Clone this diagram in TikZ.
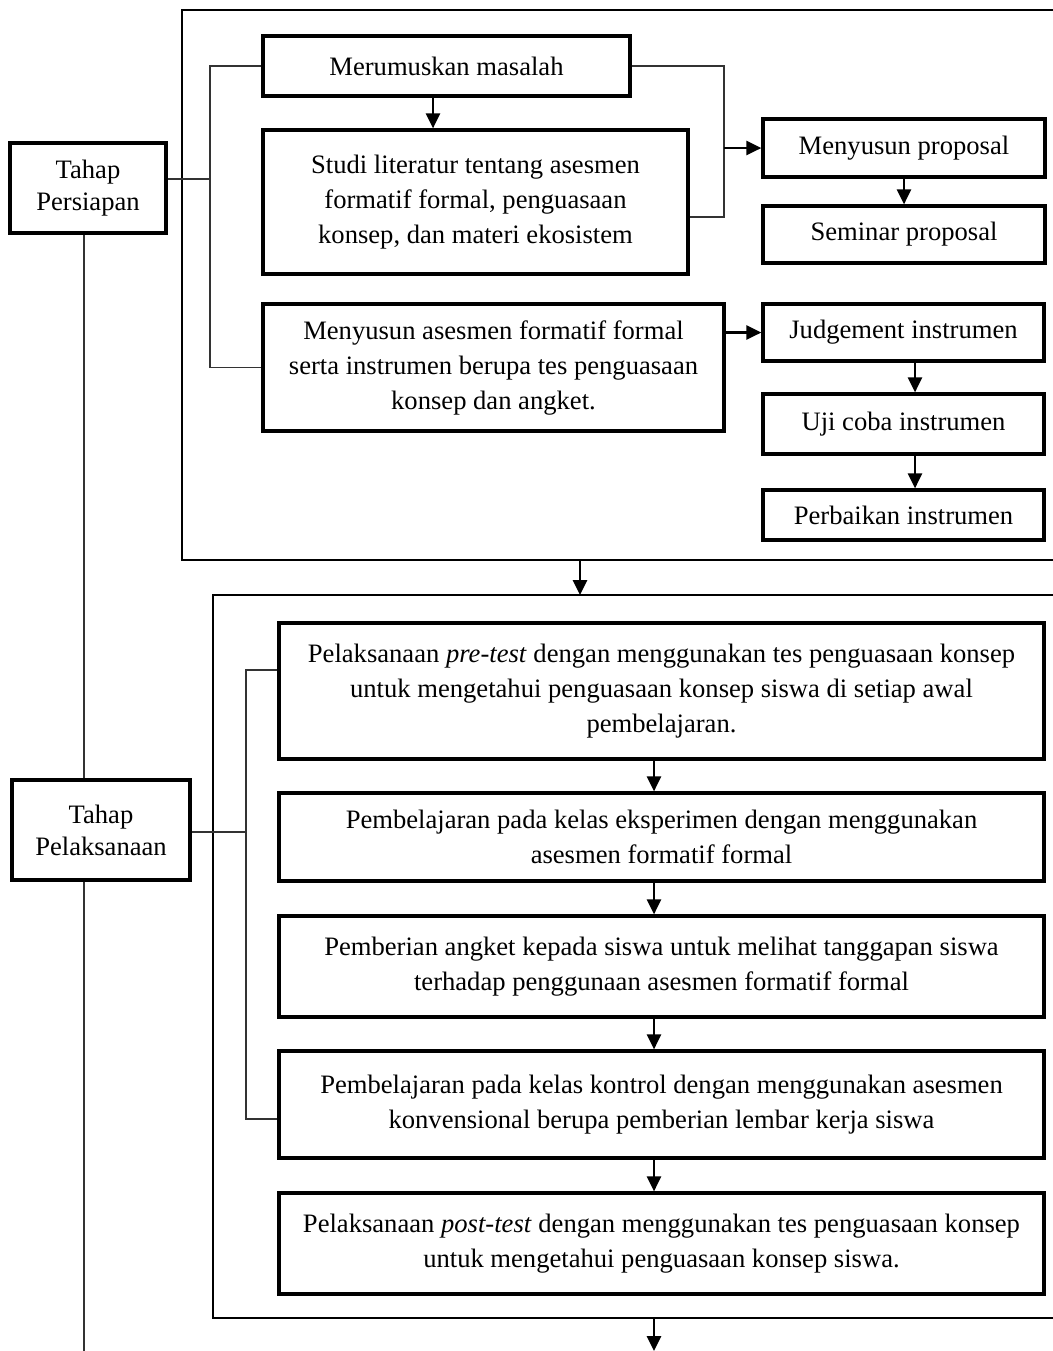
\documentclass[tikz,border=0pt]{standalone}
\usepackage{fontspec}
\setmainfont{Liberation Serif}
\usetikzlibrary{arrows.meta}

\begin{document}
\begin{tikzpicture}[x=0.5pt,y=-0.5pt,
  every node/.style={font=\fontsize{13.3}{17.5}\selectfont},
  kotak/.style={draw, rectangle, line width=1.6pt, align=center, inner sep=0pt},
  garis/.style={line width=0.7pt, draw=black!80},
  panah/.style={line width=1.3pt, -{Triangle[length=7.5pt,width=7pt]}},
  bingkai/.style={line width=1.1pt}]
\useasboundingbox (0,0) rectangle (1053,1351);

% tahap
\node[kotak, minimum width=78pt, minimum height=45pt] (persiapan) at (88,188) {Tahap\\[-1.5pt] Persiapan};
\node[kotak, minimum width=89pt, minimum height=50pt] (pelaksanaan) at (101,830) {Tahap\\[-1.5pt] Pelaksanaan};

% persiapan
\draw[bingkai] (1053,10) -- (182,10) -- (182,560) -- (1053,560);
\node[kotak, minimum width=183.5pt, minimum height=30pt] (merumuskan) at (446.5,66) {Merumuskan masalah};
\node[kotak, minimum width=212.5pt, minimum height=72pt] (studi) at (475.5,202) {Studi literatur tentang asesmen\\ formatif formal, penguasaan\\ konsep, dan materi ekosistem};
\node[kotak, minimum width=230.5pt, minimum height=63.5pt] (asesmen) at (493.5,367.5) {Menyusun asesmen formatif formal\\ serta instrumen berupa tes penguasaan\\ konsep dan angket.};
\node[kotak, minimum width=141pt, minimum height=29pt] (proposal) at (904,148) {Menyusun proposal};
\node[kotak, minimum width=141pt, minimum height=28.5pt] (seminar) at (904,234.5) {Seminar proposal};
\node[kotak, minimum width=140.5pt, minimum height=28.5pt] (judgement) at (903.5,332.5) {Judgement instrumen};
\node[kotak, minimum width=140.5pt, minimum height=30pt] (ujicoba) at (903.5,424) {Uji coba instrumen};
\node[kotak, minimum width=140.5pt, minimum height=25pt] (perbaikan) at (903.5,515) {Perbaikan instrumen};

% pelaksanaan
\draw[bingkai] (1053,595) -- (213,595) -- (213,1318) -- (1053,1318);
\node[kotak, minimum width=382.5pt, minimum height=68pt] (pretest) at (661.5,691) {Pelaksanaan \textit{pre-test} dengan menggunakan tes penguasaan konsep\\ untuk mengetahui penguasaan konsep siswa di setiap awal\\ pembelajaran.};
\node[kotak, minimum width=382.5pt, minimum height=44pt] (eksperimen) at (661.5,837) {Pembelajaran pada kelas eksperimen dengan menggunakan\\ asesmen formatif formal};
\node[kotak, minimum width=382.5pt, minimum height=50.5pt] (angket) at (661.5,966.5) {Pemberian angket kepada siswa untuk melihat tanggapan siswa\\ terhadap penggunaan asesmen formatif formal};
\node[kotak, minimum width=382.5pt, minimum height=53.5pt] (kontrol) at (661.5,1104.5) {Pembelajaran pada kelas kontrol dengan menggunakan asesmen\\ konvensional berupa pemberian lembar kerja siswa};
\node[kotak, minimum width=382.5pt, minimum height=50.5pt] (posttest) at (661.5,1243.5) {Pelaksanaan \textit{post-test} dengan menggunakan tes penguasaan konsep\\ untuk mengetahui penguasaan konsep siswa.};

% titik bantu
\coordinate (sp) at (84,1351);
\coordinate (b1) at (210,179);
\coordinate (b2) at (724,148);
\coordinate (b3) at (246,832);
\coordinate (m1) at (433,0);
\coordinate (r1) at (915,0);
\coordinate (f1) at (580,560);
\coordinate (f2) at (580,595);
\coordinate (f3) at (654,1318);
\coordinate (akhir) at (654,1351);

% garis kiri
\draw[garis] (persiapan.south -| sp) -- (pelaksanaan.north -| sp);
\draw[garis] (pelaksanaan.south -| sp) -- (sp);
\draw[garis] (persiapan.east |- b1) -- (b1);
\draw[garis] (merumuskan.west) -| (b1) |- (asesmen.west);
\draw[garis] (merumuskan.east) -| (b2) |- ([yshift=-7.5pt]studi.east);
\draw[garis] (pelaksanaan.east |- b3) -- (b3);
\draw[garis] ([yshift=10.5pt]pretest.west) -| (b3) |- ([yshift=-7.25pt]kontrol.west);

% panah
\draw[panah] (merumuskan.south -| m1) -- (studi.north -| m1);
\draw[panah] (b2) -- (proposal.west);
\draw[panah] (proposal) -- (seminar);
\draw[panah] (asesmen.east |- judgement.west) -- (judgement.west);
\draw[panah] (judgement.south -| r1) -- (ujicoba.north -| r1);
\draw[panah] (ujicoba.south -| r1) -- (perbaikan.north -| r1);
\draw[panah] (f1) -- (f2);
\draw[panah] (pretest.south -| f3) -- (eksperimen.north -| f3);
\draw[panah] (eksperimen.south -| f3) -- (angket.north -| f3);
\draw[panah] (angket.south -| f3) -- (kontrol.north -| f3);
\draw[panah] (kontrol.south -| f3) -- (posttest.north -| f3);
\draw[panah] (f3) -- (akhir);
%\draw[panah] (posttest) -- (f3);

\end{tikzpicture}
\end{document}
